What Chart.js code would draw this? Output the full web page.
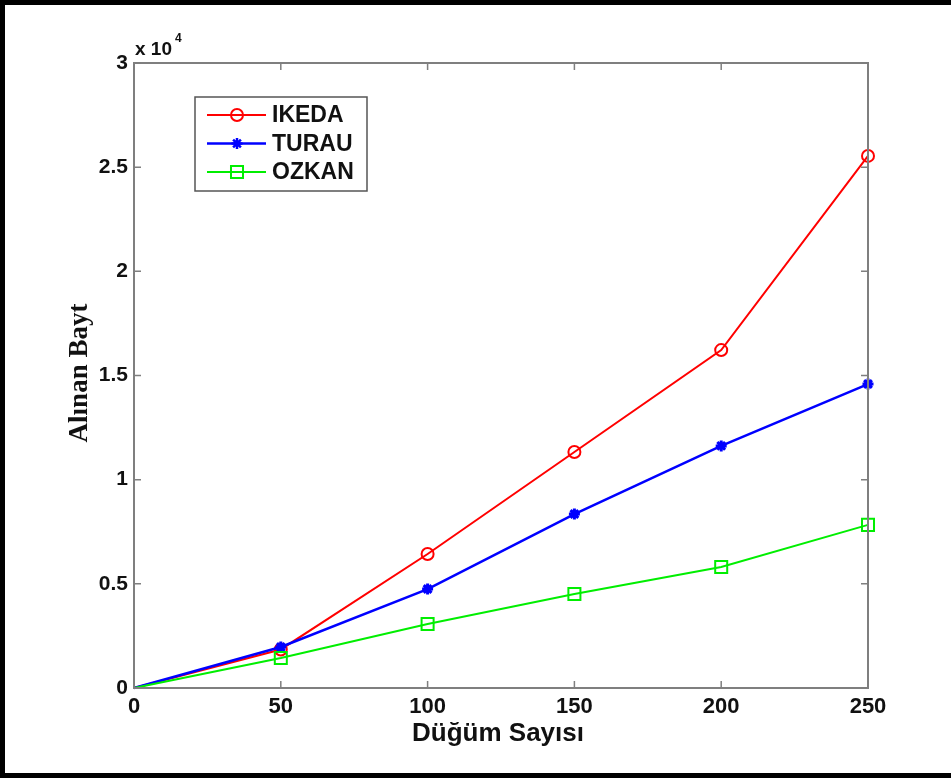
<!DOCTYPE html>
<html>
<head>
<meta charset="utf-8">
<script src="https://cdn.jsdelivr.net/npm/chart.js@4"></script>
<style>
  html, body { margin: 0; padding: 0; background: #fff; }
  canvas { display: block; }
</style>
</head>
<body>
<canvas id="byteChart" width="951" height="778"></canvas>
<script>
// node counts on the x axis
const nodeCounts = [0, 50, 100, 150, 200, 250];
// received bytes per protocol
const ikedaBytes = [0, 1850, 6430, 11330, 16220, 25540];
const turauBytes = [0, 1970, 4750, 8350, 11620, 14590];
const ozkanBytes = [0, 1440, 3070, 4510, 5810, 7830];
const seriesNames = ['IKEDA', 'TURAU', 'OZKAN'];

const yMax = 30000;
const yStep = 5000;
const yExponent = 4;

const sansBold = (size) => ({ family: '"Liberation Sans", Arial, sans-serif', size: size, weight: 'bold' });
const frameColor = '#7f7f7f';

function toPoints(values) {
  return nodeCounts.map((n, i) => ({ x: n, y: values[i] }));
}

// no marker at the origin, only along the curve
function markerSize(size) {
  return (c) => (c.dataIndex === 0 ? 0 : size);
}

// frame, inward ticks, exponent note, axis titles and the legend box
const matlabLook = {
  id: 'matlabLook',
  beforeDraw(chart) {
    const ctx = chart.ctx;
    ctx.save();
    ctx.fillStyle = '#fff';
    ctx.fillRect(0, 0, chart.width, chart.height);
    ctx.restore();
  },
  afterDatasetsDraw(chart) {
    const ctx = chart.ctx;
    const a = chart.chartArea;
    const xs = chart.scales.x;
    const ys = chart.scales.y;
    ctx.save();

    // axes box
    ctx.strokeStyle = frameColor;
    ctx.lineWidth = 2;
    ctx.strokeRect(a.left, a.top, a.right - a.left, a.bottom - a.top);

    // ticks pointing inward on every side
    ctx.lineWidth = 1.5;
    ctx.beginPath();
    xs.ticks.forEach(t => {
      const px = xs.getPixelForValue(t.value);
      ctx.moveTo(px, a.bottom); ctx.lineTo(px, a.bottom - 7);
      ctx.moveTo(px, a.top); ctx.lineTo(px, a.top + 7);
    });
    ys.ticks.forEach(t => {
      const py = ys.getPixelForValue(t.value);
      ctx.moveTo(a.left, py); ctx.lineTo(a.left + 7, py);
      ctx.moveTo(a.right, py); ctx.lineTo(a.right - 7, py);
    });
    ctx.stroke();

    // legend
    const lx = a.left + 61, ly = a.top + 34;
    const lw = 172, lh = 94;
    ctx.fillStyle = '#fff';
    ctx.fillRect(lx, ly, lw, lh);
    ctx.strokeStyle = '#555';
    ctx.lineWidth = 1.5;
    ctx.strokeRect(lx, ly, lw, lh);
    chart.data.datasets.forEach((ds, i) => {
      const rowY = ly + 18 + i * 28.5;
      ctx.strokeStyle = ds.borderColor;
      ctx.lineWidth = ds.borderWidth;
      ctx.beginPath();
      ctx.moveTo(lx + 12, rowY);
      ctx.lineTo(lx + 71, rowY);
      ctx.stroke();
      ctx.fillStyle = ds.pointBackgroundColor;
      ctx.strokeStyle = ds.borderColor;
      Chart.helpers.drawPoint(ctx, {
        pointStyle: ds.pointStyle,
        radius: ds.markerRadius,
        rotation: 0,
        borderWidth: ds.pointBorderWidth
      }, lx + 42, rowY);
      ctx.fillStyle = '#111';
      ctx.font = 'bold 23px "Liberation Sans", Arial, sans-serif';
      ctx.textAlign = 'left';
      ctx.textBaseline = 'middle';
      ctx.fillText(ds.label, lx + 77, rowY + 1);
    });
    ctx.restore();
  },
  afterDraw(chart) {
    const ctx = chart.ctx;
    const a = chart.chartArea;
    ctx.save();
    ctx.fillStyle = '#111';

    // exponent above the y axis
    ctx.textAlign = 'left';
    ctx.textBaseline = 'alphabetic';
    ctx.font = 'bold 19px "Liberation Sans", Arial, sans-serif';
    ctx.fillText('x 10', a.left + 1, a.top - 8);
    ctx.font = 'bold 12px "Liberation Sans", Arial, sans-serif';
    ctx.fillText(String(yExponent), a.left + 41, a.top - 21);

    // x axis title
    ctx.textAlign = 'center';
    ctx.textBaseline = 'middle';
    ctx.font = 'bold 26px "Liberation Sans", Arial, sans-serif';
    ctx.fillText('Düğüm Sayısı', 498, 734);

    // y axis title
    ctx.translate(80, 373);
    ctx.rotate(-Math.PI / 2);
    ctx.font = 'bold 27px "Liberation Serif", "Times New Roman", serif';
    ctx.fillText('Alınan Bayt', 0, 0);
    ctx.restore();

    // outer frame
    ctx.save();
    ctx.fillStyle = '#000';
    ctx.fillRect(0, 0, chart.width, 5);
    ctx.fillRect(0, 0, 5, chart.height);
    ctx.fillRect(0, chart.height - 5, chart.width, 5);
    ctx.restore();
  }
};

const ctx = document.getElementById('byteChart').getContext('2d');
const byteChart = new Chart(ctx, {
  type: 'line',
  data: {
    datasets: [
      {
        label: seriesNames[0],
        data: toPoints(ikedaBytes),
        borderColor: '#ff0000',
        borderWidth: 2,
        pointStyle: 'circle',
        markerRadius: 6,
        pointRadius: markerSize(6),
        pointBorderWidth: 2,
        pointBackgroundColor: 'rgba(0,0,0,0)',
        order: 3,
        clip: false
      },
      {
        label: seriesNames[1],
        data: toPoints(turauBytes),
        borderColor: '#0000ff',
        borderWidth: 2.5,
        pointStyle: 'star',
        markerRadius: 5.5,
        pointRadius: markerSize(5.5),
        pointBorderWidth: 3,
        pointBackgroundColor: '#0000ff',
        order: 2,
        clip: false
      },
      {
        label: seriesNames[2],
        data: toPoints(ozkanBytes),
        borderColor: '#00ee00',
        borderWidth: 2,
        pointStyle: 'rect',
        markerRadius: 8.5,
        pointRadius: markerSize(8.5),
        pointBorderWidth: 2,
        pointBackgroundColor: 'rgba(0,0,0,0)',
        order: 1,
        clip: false
      }
    ]
  },
  options: {
    responsive: false,
    animation: false,
    layout: { padding: { top: 63, right: 83, left: 0, bottom: 0 } },
    plugins: {
      legend: { display: false },
      tooltip: { enabled: false }
    },
    elements: { line: { tension: 0 } },
    scales: {
      x: {
        type: 'linear',
        min: 0,
        max: 250,
        grid: { display: false, drawTicks: false },
        border: { display: false },
        ticks: { stepSize: 50, color: '#111', font: sansBold(22), padding: 6, maxRotation: 0 },
        afterFit: (s) => { s.height = 90; }
      },
      y: {
        min: 0,
        max: yMax,
        grid: { display: false, drawTicks: false },
        border: { display: false },
        ticks: {
          stepSize: yStep,
          color: '#111',
          font: sansBold(21),
          padding: 6,
          callback: (v) => String(v / Math.pow(10, yExponent))
        },
        afterFit: (s) => { s.width = 134; }
      }
    }
  },
  plugins: [matlabLook]
});
</script>
</body>
</html>
